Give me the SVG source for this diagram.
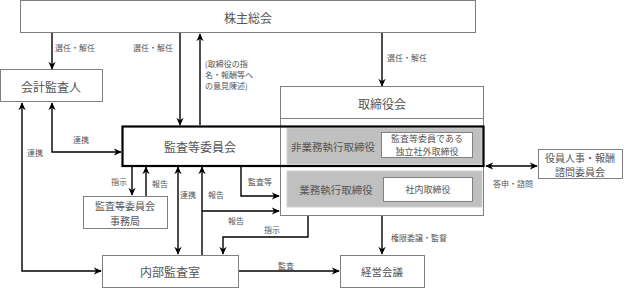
<svg xmlns="http://www.w3.org/2000/svg" width="624" height="288" viewBox="0 0 624 288">
<defs>
<marker id="ah" viewBox="0 0 10 10" refX="9" refY="5" markerWidth="8" markerHeight="8" markerUnits="userSpaceOnUse" orient="auto-start-reverse">
<path d="M0,0.5 L10,5 L0,9.5 L3,5 z" fill="#000"/>
</marker>
</defs>
<style>
text{font-family:"Noto Sans CJK JP","Noto Sans",sans-serif;fill:#555;dominant-baseline:central}
.box{fill:#fff;stroke:#808080;stroke-width:1}
.gray{fill:#c0c0c0;stroke:#d0d0d0;stroke-width:1}
.t12{font-size:12px;text-anchor:middle}
.t10{font-size:10px;text-anchor:middle}
.t9{font-size:9px;text-anchor:middle}
.lb{font-size:8px}
.c{fill:none;stroke:#000;stroke-width:1.4}
.a{marker-end:url(#ah)}
.s{marker-start:url(#ah)}
</style>
<rect width="624" height="288" fill="#fff"/>

<g id="kabunushi">
<rect class="box" x="20.5" y="0.5" width="455" height="32"/>
<text class="t12" x="248" y="17">株主総会</text>
</g>
<g id="kaikei">
<rect class="box" x="0.5" y="69.5" width="102" height="32"/>
<text class="t12" x="51" y="86">会計監査人</text>
</g>
<g id="torishimariyakukai">
<rect class="box" x="280.5" y="86.5" width="203" height="129"/>
<line x1="280.5" y1="118.5" x2="483.5" y2="118.5" stroke="#808080" stroke-width="1"/>
<text class="t12" x="382" y="103">取締役会</text>
</g>
<g id="hi-gyomu">
<rect class="gray" x="287" y="128" width="195" height="36"/>
<text font-size="10.5" text-anchor="middle" x="333" y="146">非業務執行取締役</text>
</g>
<g id="dokuritsu">
<rect class="box" x="381.5" y="132.5" width="91" height="25"/>
<text class="t9" x="427" y="138.7">監査等委員である<tspan x="427" dy="12.6">独立社外取締役</tspan></text>
</g>
<g id="gyomu">
<rect class="gray" x="287" y="171" width="195" height="36"/>
<text font-size="10.5" text-anchor="middle" x="336" y="189">業務執行取締役</text>
</g>
<g id="shanai">
<rect class="box" x="383.5" y="177.5" width="89" height="24"/>
<text class="t9" x="428" y="189">社内取締役</text>
</g>
<g id="kansatoiinkai">
<rect x="122.5" y="126.5" width="361" height="39.5" fill="none" stroke="#000" stroke-width="2.2"/>
<text class="t12" x="200" y="146">監査等委員会</text>
</g>
<g id="yakuin">
<rect class="box" x="538.5" y="149.5" width="84" height="29"/>
<text class="t10" x="580" y="157">役員人事・報酬<tspan x="580" dy="14">諮問委員会</tspan></text>
</g>
<g id="jimukyoku">
<rect class="box" x="83.5" y="196.5" width="84" height="32"/>
<text class="t10" x="125" y="205.5">監査等委員会<tspan x="125" dy="14">事務局</tspan></text>
</g>
<g id="naibu">
<rect class="box" x="102.5" y="255.5" width="136" height="32"/>
<text class="t12" x="170" y="271">内部監査室</text>
</g>
<g id="keiei">
<rect class="box" x="340.5" y="255.5" width="84" height="32"/>
<text font-size="10.5" text-anchor="middle" x="382" y="271">経営会議</text>
</g>

<g id="connectors">
<path class="c a" d="M52,33 V69"/>
<path class="c a" d="M180,33 V125"/>
<path class="c a" d="M200,125 V34"/>
<path class="c a" d="M382,33 V86"/>
<path class="c a s" d="M52,103 V152 H121"/>
<path class="c a s" d="M22,103 V271 H101"/>
<path class="c a" d="M132,167 V195"/>
<path class="c a" d="M146,196 V167"/>
<path class="c a s" d="M178,167 V254"/>
<path class="c a" d="M202,255 V167"/>
<path class="c a" d="M202,211 H279"/>
<path class="c a" d="M241,167 V196 H279"/>
<path class="c a" d="M308,216 V237 H223 V254"/>
<path class="c a" d="M239,271 H339"/>
<path class="c a" d="M382,216 V254"/>
<path class="c a s" d="M486,166 H537"/>
</g>

<g id="labels">
<text class="lb" x="55" y="47">選任・解任</text>
<text class="lb" x="133" y="47">選任・解任</text>
<text class="lb" x="205" y="63">(取締役の指<tspan x="205" dy="11">名・報酬等へ</tspan><tspan x="205" dy="11">の意見陳述)</tspan></text>
<text class="lb" x="387" y="57">選任・解任</text>
<text class="lb" x="73" y="139">連携</text>
<text class="lb" x="27" y="152">連携</text>
<text class="lb" x="111" y="181">指示</text>
<text class="lb" x="152" y="183">報告</text>
<text class="lb" x="180" y="194">連携</text>
<text class="lb" x="208" y="194">報告</text>
<text class="lb" x="248" y="181">監査等</text>
<text class="lb" x="228" y="220">報告</text>
<text class="lb" x="264" y="229">指示</text>
<text class="lb" x="278" y="265">監査</text>
<text class="lb" x="391" y="237">権限委譲・監督</text>
<text class="lb" x="493" y="183">答申・諮問</text>
</g>
</svg>
